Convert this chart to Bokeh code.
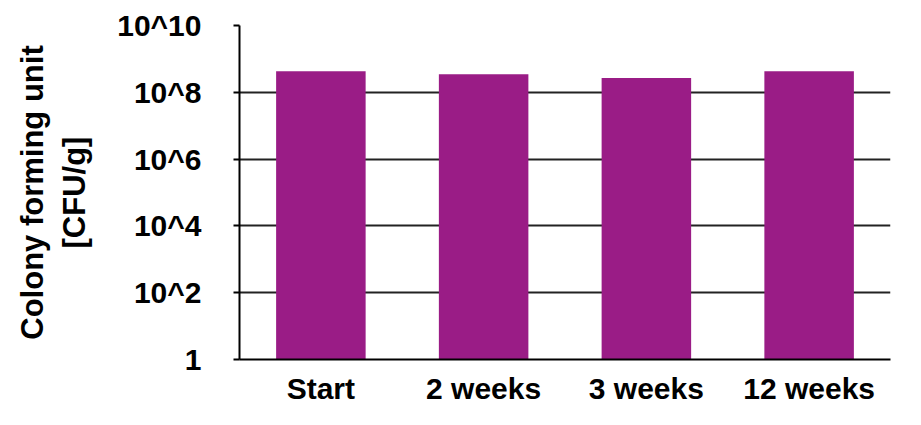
from bokeh.plotting import figure
from bokeh.models import FactorRange, FixedTicker, Range1d
from bokeh.embed import file_html
from bokeh.resources import INLINE

categories = ["Start", "2 weeks", "3 weeks", "12 weeks"]
cfu_values = [4.3e8, 3.5e8, 2.7e8, 4.3e8]
tick_values = [1, 1e2, 1e4, 1e6, 1e8, 1e10]
tick_labels = ["1", "10^2", "10^4", "10^6", "10^8", "10^10"]

FONT = "Liberation Sans"
FS = "30px"

p = figure(
    x_range=FactorRange(*categories, range_padding=0),
    y_range=Range1d(1, 1e10),
    y_axis_type="log",
    width=905, height=409,
    output_backend="svg", toolbar_location=None,
    min_border_left=239, min_border_right=15, min_border_top=25, min_border_bottom=50,
)
p.outline_line_color = None
p.background_fill_color = "white"
p.border_fill_color = "white"

p.vbar(x=categories, top=cfu_values, bottom=1, width=0.55,
       fill_color="#9A1C86", line_color=None)

# grid
p.xgrid.grid_line_color = None
p.ygrid.grid_line_color = "#222222"
p.ygrid.grid_line_width = 2
p.ygrid.ticker = FixedTicker(ticks=tick_values)

# y axis
ya = p.yaxis[0]
ya.ticker = FixedTicker(ticks=tick_values, minor_ticks=[])
ya.major_label_overrides = {float(v): l for v, l in zip(tick_values, tick_labels)}
ya.axis_line_color = "black"
ya.axis_line_width = 2
ya.major_tick_line_color = "black"
ya.major_tick_line_width = 2
ya.major_tick_out = 6
ya.major_tick_in = 0
ya.minor_tick_line_color = None
ya.major_label_standoff = 32
ya.major_label_text_font = FONT
ya.major_label_text_font_style = "bold"
ya.major_label_text_font_size = FS
ya.major_label_text_color = "black"
ya.axis_label = "Colony forming unit\n[CFU/g]"
ya.axis_label_text_font = FONT
ya.axis_label_text_font_style = "bold"
ya.axis_label_text_font_size = "31px"
ya.axis_label_text_color = "black"
ya.axis_label_standoff = 22

# x axis
xa = p.xaxis[0]
xa.axis_line_color = "black"
xa.axis_line_width = 2
xa.major_tick_line_color = None
xa.minor_tick_line_color = None
xa.major_label_standoff = 6
xa.major_label_text_font = FONT
xa.major_label_text_font_style = "bold"
xa.major_label_text_font_size = FS
xa.major_label_text_color = "black"

open("out.html", "w").write(file_html(p, INLINE))
